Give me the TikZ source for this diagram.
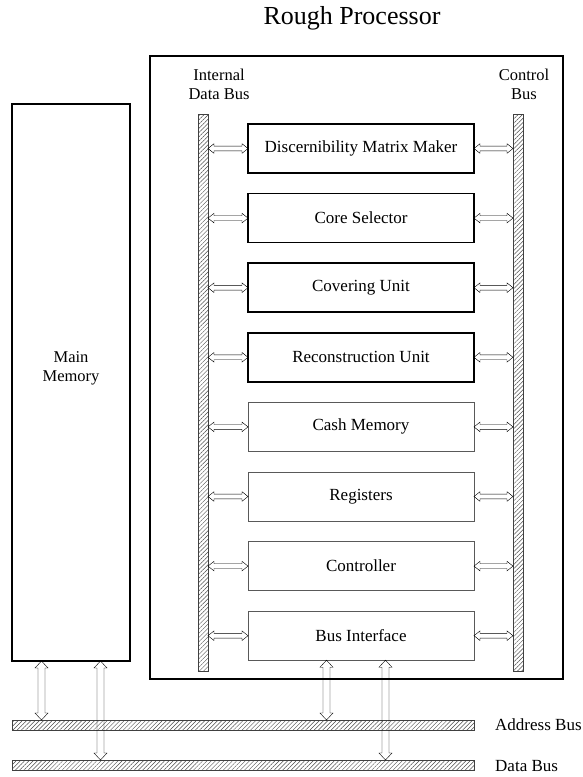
\documentclass[tikz,border=0pt]{standalone}
\usepackage{fontspec}
\setmainfont{Liberation Serif}
\usetikzlibrary{calc,patterns.meta}

\tikzset{
  frame/.style={draw=black, line width=2.6pt, inner sep=0pt, outer sep=0pt},
  unitbold/.style={draw=black, line width=1.5pt, minimum width=226pt, minimum height=49pt,
    inner sep=0pt, outer sep=0pt, font=\fontsize{17}{19}\selectfont},
  unitthin/.style={draw=black!65, line width=0.8pt, minimum width=226pt, minimum height=49pt,
    inner sep=0pt, outer sep=0pt, font=\fontsize{17}{19}\selectfont},
  busbar/.style={draw=black!75, line width=0.6pt, inner sep=0pt, outer sep=0pt,
    pattern={Lines[angle=45,distance=3pt,line width=0.45pt]}, pattern color=black!70},
  lbl/.style={align=center, font=\fontsize{16.5}{19}\selectfont, inner sep=0pt},
  % hollow double-headed arrow, left to right
  harrow/.style={draw=black, line width=1.2pt, to path={
    let \p1=(\tikztostart), \p2=(\tikztotarget) in
    (\x1,\y1) -- (\x1+6pt,\y1+4.8pt) -- (\x1+6pt,\y1+2.4pt) -- (\x2-6pt,\y1+2.4pt)
    -- (\x2-6pt,\y1+4.8pt) -- (\x2,\y1) -- (\x2-6pt,\y1-4.8pt) -- (\x2-6pt,\y1-2.4pt)
    -- (\x1+6pt,\y1-2.4pt) -- (\x1+6pt,\y1-4.8pt) -- cycle}},
  % hollow double-headed arrow, top to bottom
  varrow/.style={draw=black, line width=1.2pt, to path={
    let \p1=(\tikztostart), \p2=(\tikztotarget) in
    (\x1,\y1) -- (\x1+6.5pt,\y1-7pt) -- (\x1+3.5pt,\y1-7pt) -- (\x1+3.5pt,\y2+7pt)
    -- (\x1+6.5pt,\y2+7pt) -- (\x1,\y2) -- (\x1-6.5pt,\y2+7pt) -- (\x1-3.5pt,\y2+7pt)
    -- (\x1-3.5pt,\y1-7pt) -- (\x1-6.5pt,\y1-7pt) -- cycle}},
}

\begin{document}
\begin{tikzpicture}[x=1pt,y=-1pt]
\useasboundingbox (0,0) rectangle (583,777);

% title and outer frames
\node[font=\fontsize{26}{30}\selectfont, inner sep=0pt] (title) at (352,18) {Rough Processor};
\node[frame, minimum width=413pt, minimum height=623pt] (proc) at (356.5,367.5) {};
\node[frame, minimum width=118pt, minimum height=557pt] (mem) at (71,382.5) {};
\node[lbl] (memlbl) at (71,368) {Main\\Memory};

% internal buses
\node[busbar, minimum width=10pt, minimum height=557pt] (idb) at (203,392.5) {};
\node[busbar, minimum width=10pt, minimum height=557pt] (cb) at (518,392.5) {};
\node[lbl] (idblbl) at (219,84.5) {Internal\\Data Bus};
\node[lbl] (cblbl) at (524,84.5) {Control\\Bus};

% functional units
\node[unitbold] (u1) at (361,148.5) {Discernibility Matrix Maker};
\node[unitbold] (u2) at (361,218.1) {Core Selector};
\node[unitbold] (u3) at (361,287.7) {Covering Unit};
\node[unitbold] (u4) at (361,357.3) {Reconstruction Unit};
\node[unitthin] (u5) at (361,426.9) {Cash Memory};
\node[unitthin] (u6) at (361,496.5) {Registers};
\node[unitthin] (u7) at (361,566.1) {Controller};
\node[unitthin] (u8) at (361,635.7) {Bus Interface};

% external buses
\node[busbar, minimum width=462pt, minimum height=10pt] (ab) at (243,725) {};
\node[busbar, minimum width=462pt, minimum height=10pt] (db) at (243,765) {};
\node[lbl, anchor=west, font=\fontsize{17}{19}\selectfont] (ablbl) at (495,725) {Address Bus};
\node[lbl, anchor=west, font=\fontsize{17}{19}\selectfont] (dblbl) at (495,766) {Data Bus};

% unit <-> bus connections
\foreach \u in {u1,u2,u3,u4,u5,u6,u7,u8}{
  \draw (idb.east |- \u.west) to[harrow] (\u.west);
  \draw (\u.east) to[harrow] (cb.west |- \u.east);
}

% memory and bus interface <-> external buses
\coordinate (mA) at ($(mem.south west)!0.25!(mem.south east)$);
\coordinate (mD) at ($(mem.south west)!0.75!(mem.south east)$);
\coordinate (iA) at ($(u8.south west)+(78.5,0)$);
\coordinate (iD) at ($(u8.south west)+(137.5,0)$);
\draw (mA) to[varrow] (mA |- ab.north);
\draw (mD) to[varrow] (mD |- db.north);
\draw (iA) to[varrow] (iA |- ab.north);
\draw (iD) to[varrow] (iD |- db.north);
\end{tikzpicture}
\end{document}
